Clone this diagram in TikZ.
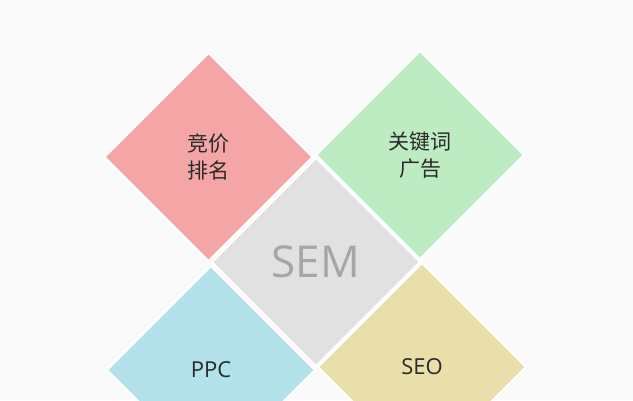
\documentclass[tikz,border=0pt]{standalone}
\usepackage{fontspec}
\setmainfont{Open Sans}
\newfontfamily\cjk{Noto Sans CJK SC}
\usepackage{tikz}
\usetikzlibrary{shapes.geometric}
\definecolor{bgColor}{HTML}{FAFAFA}
\definecolor{pinkColor}{HTML}{F4A6A7}
\definecolor{greenColor}{HTML}{BDEBC2}
\definecolor{grayColor}{HTML}{E1E1E1}
\definecolor{blueColor}{HTML}{B3E2EA}
\definecolor{yellowColor}{HTML}{EADEAA}
\definecolor{textColor}{HTML}{2A2A2A}
\definecolor{semColor}{HTML}{A3A7AA}

\begin{document}
\begin{tikzpicture}[x=1pt,y=-1pt]

          \tikzstyle{tile} = [diamond, draw=white, line width=2pt, inner sep=0pt,
                              minimum width=209pt, minimum height=209pt,
                              text=textColor, align=center, font=\fontsize{22}{27}\selectfont];
          \tikzstyle{pinkTile} = [tile, fill=pinkColor];
          \tikzstyle{greenTile} = [tile, fill=greenColor];
          \tikzstyle{grayTile} = [tile, fill=grayColor];
          \tikzstyle{blueTile} = [tile, fill=blueColor];
          \tikzstyle{yellowTile} = [tile, fill=yellowColor];

          \fill[bgColor] (0,0) rectangle (633,400);
          \useasboundingbox (0,0) rectangle (633,400);

          \node[pinkTile, font=\fontsize{21}{27}\cjk] (bid) at (208.5,157) {竞价\\排名};
          \node[greenTile, font=\fontsize{21}{27}\cjk] (keyword) at (420,155) {关键词\\广告};
          \node[grayTile, text=semColor, font=\fontsize{44}{44}\selectfont] (sem) at (316,262) {SEM};
          \node[blueTile] (ppc) at (211,370) {PPC};
          \node[yellowTile] (seo) at (422,367) {SEO};
        \end{tikzpicture}
\end{document}
